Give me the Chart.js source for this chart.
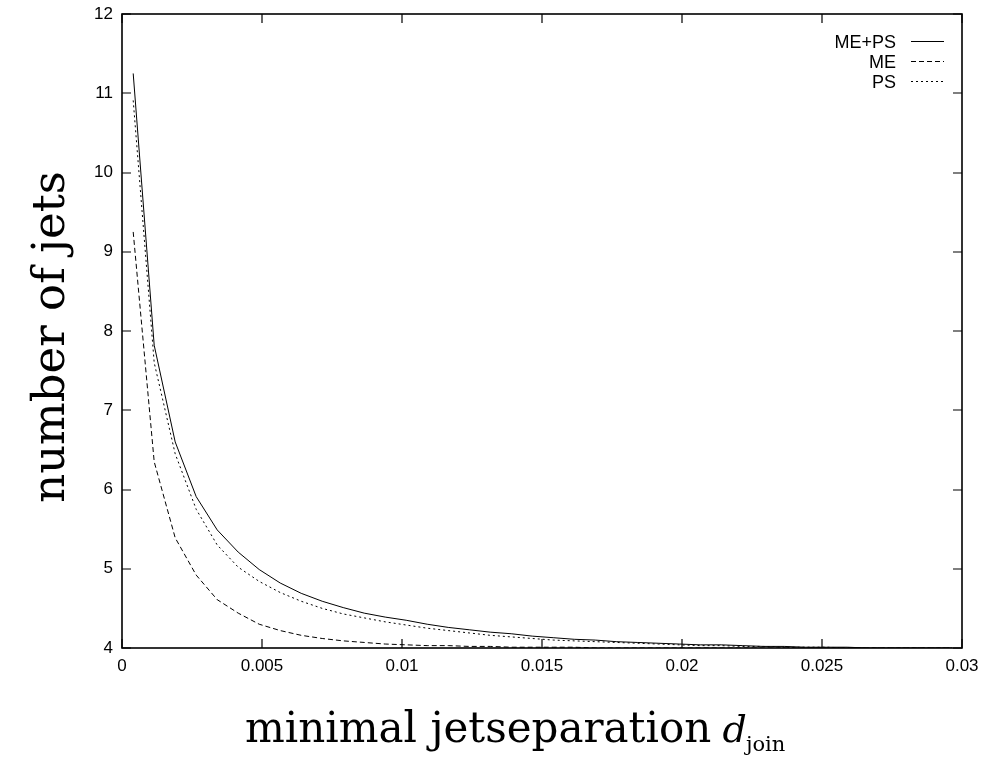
<!DOCTYPE html>
<html>
<head>
<meta charset="utf-8">
<script src="https://cdn.jsdelivr.net/npm/chart.js@4.4.0/dist/chart.umd.min.js"></script>
<style>
  body { margin: 0; background: #fff; }
</style>
</head>
<body>
<canvas id="jetsChart" width="982" height="759"></canvas>
<script>
// minimal jet separation d_join (x positions of the samples)
const dJoin = [0.0004, 0.00115, 0.0019, 0.00265, 0.0034, 0.00415, 0.0049, 0.00565, 0.0064, 0.00715,
  0.0079, 0.00865, 0.0094, 0.01015, 0.0109, 0.01165, 0.0124, 0.01315, 0.0139, 0.01465,
  0.0154, 0.01615, 0.0169, 0.01765, 0.0184, 0.01915, 0.0199, 0.02065, 0.0214, 0.02215,
  0.0229, 0.02365, 0.0244, 0.02515, 0.0259, 0.02665, 0.0274, 0.02815, 0.0289, 0.02965];

// number of jets
const mePs = [11.25, 7.82, 6.60, 5.91, 5.49, 5.21, 4.99, 4.82, 4.69, 4.59,
  4.51, 4.44, 4.39, 4.35, 4.30, 4.26, 4.23, 4.20, 4.18, 4.15,
  4.13, 4.11, 4.10, 4.08, 4.07, 4.06, 4.05, 4.04, 4.04, 4.03,
  4.02, 4.02, 4.01, 4.01, 4.01, 4.00, 4.00, 4.00, 4.00, 4.00];
const me = [9.25, 6.35, 5.39, 4.92, 4.61, 4.44, 4.30, 4.22, 4.16, 4.12,
  4.09, 4.07, 4.05, 4.04, 4.03, 4.03, 4.02, 4.02, 4.01, 4.01,
  4.01, 4.01, 4.00, 4.00, 4.00, 4.00, 4.00, 4.00, 4.00, 4.00,
  4.00, 4.00, 4.00, 4.00, 4.00, 4.00, 4.00, 4.00, 4.00, 4.00];
const ps = [10.91, 7.60, 6.45, 5.75, 5.30, 5.02, 4.84, 4.70, 4.59, 4.50,
  4.43, 4.38, 4.33, 4.29, 4.25, 4.22, 4.19, 4.16, 4.14, 4.12,
  4.10, 4.09, 4.08, 4.07, 4.06, 4.05, 4.04, 4.03, 4.03, 4.02,
  4.02, 4.01, 4.01, 4.01, 4.00, 4.00, 4.00, 4.00, 4.00, 4.00];

const seriesNames = ["ME+PS", "ME", "PS"];
const xTicks = [0, 0.005, 0.01, 0.015, 0.02, 0.025, 0.03];
const yTicks = [4, 5, 6, 7, 8, 9, 10, 11, 12];

const toPoints = vals => vals.map((v, i) => ({ x: dJoin[i], y: v }));

// gnuplot style frame, inward ticks, titles and key
const gnuplotLook = {
  id: "gnuplotLook",
  afterDraw(chart) {
    const { ctx, chartArea: a, scales: { x, y } } = chart;
    ctx.save();
    ctx.strokeStyle = "#000";
    ctx.fillStyle = "#000";
    ctx.setLineDash([]);
    ctx.lineWidth = 1.6;
    ctx.strokeRect(a.left, a.top, a.right - a.left, a.bottom - a.top);
    ctx.lineWidth = 1.2;
    ctx.beginPath();
    x.ticks.forEach(t => {
      const px = Math.round(x.getPixelForValue(t.value));
      ctx.moveTo(px, a.bottom); ctx.lineTo(px, a.bottom - 9);
      ctx.moveTo(px, a.top); ctx.lineTo(px, a.top + 9);
    });
    y.ticks.forEach(t => {
      const py = Math.round(y.getPixelForValue(t.value));
      ctx.moveTo(a.left, py); ctx.lineTo(a.left + 9, py);
      ctx.moveTo(a.right, py); ctx.lineTo(a.right - 9, py);
    });
    ctx.stroke();

    // y title
    ctx.save();
    ctx.font = '45px "DejaVu Serif"';
    ctx.textAlign = "center";
    ctx.textBaseline = "alphabetic";
    ctx.translate(64, 337);
    ctx.rotate(-Math.PI / 2);
    ctx.fillText("number of jets", 0, 0);
    ctx.restore();

    // x title with subscript
    ctx.textAlign = "left";
    ctx.textBaseline = "alphabetic";
    ctx.font = '42px "DejaVu Serif"';
    const main = "minimal jetseparation ";
    let tx = 245;
    ctx.fillText(main, tx, 742);
    tx += ctx.measureText(main).width - 2;
    ctx.font = 'italic 38px "DejaVu Serif"';
    ctx.fillText("d", tx, 742);
    tx += ctx.measureText("d").width - 1;
    ctx.font = '21px "DejaVu Serif"';
    ctx.fillText("join", tx, 751);

    // key
    ctx.lineWidth = 1;
    ctx.font = '18px "Liberation Sans"';
    ctx.textAlign = "right";
    chart.data.datasets.forEach((ds, i) => {
      const yy = 41 + i * 20;
      ctx.fillText(ds.label, 896, yy + 6.5);
      ctx.setLineDash(ds.borderDash || []);
      ctx.beginPath();
      ctx.moveTo(911, yy + 0.5);
      ctx.lineTo(944, yy + 0.5);
      ctx.stroke();
    });
    ctx.restore();
  }
};

const lineStyle = dash => ({
  borderColor: "#000",
  borderWidth: 1,
  borderDash: dash,
  pointRadius: 0,
  tension: 0,
  fill: false
});

new Chart(document.getElementById("jetsChart"), {
  type: "line",
  data: {
    datasets: [
      { label: seriesNames[0], data: toPoints(mePs), ...lineStyle([]) },
      { label: seriesNames[1], data: toPoints(me), ...lineStyle([5, 3]) },
      { label: seriesNames[2], data: toPoints(ps), ...lineStyle([2, 3]) }
    ]
  },
  options: {
    responsive: false,
    animation: false,
    layout: { padding: { top: 14, right: 20, left: 0, bottom: 0 } },
    plugins: {
      legend: { display: false },
      tooltip: { enabled: false }
    },
    scales: {
      x: {
        type: "linear",
        min: 0,
        max: 0.03,
        afterBuildTicks: s => { s.ticks = xTicks.map(v => ({ value: v })); },
        afterFit: s => { s.height = 111; s.paddingLeft = 0; s.paddingRight = 0; },
        grid: { display: false, drawTicks: false },
        border: { display: false },
        ticks: {
          padding: 8,
          color: "#000",
          font: { family: "Liberation Sans", size: 17 },
          maxRotation: 0,
          callback: v => String(v)
        }
      },
      y: {
        type: "linear",
        min: 4,
        max: 12,
        afterBuildTicks: s => { s.ticks = yTicks.map(v => ({ value: v })); },
        afterFit: s => { s.width = 122; s.paddingTop = 0; s.paddingBottom = 0; },
        grid: { display: false, drawTicks: false },
        border: { display: false },
        ticks: {
          padding: 9,
          color: "#000",
          font: { family: "Liberation Sans", size: 17 },
          callback: v => String(v)
        }
      }
    }
  },
  plugins: [gnuplotLook]
});
</script>
</body>
</html>
